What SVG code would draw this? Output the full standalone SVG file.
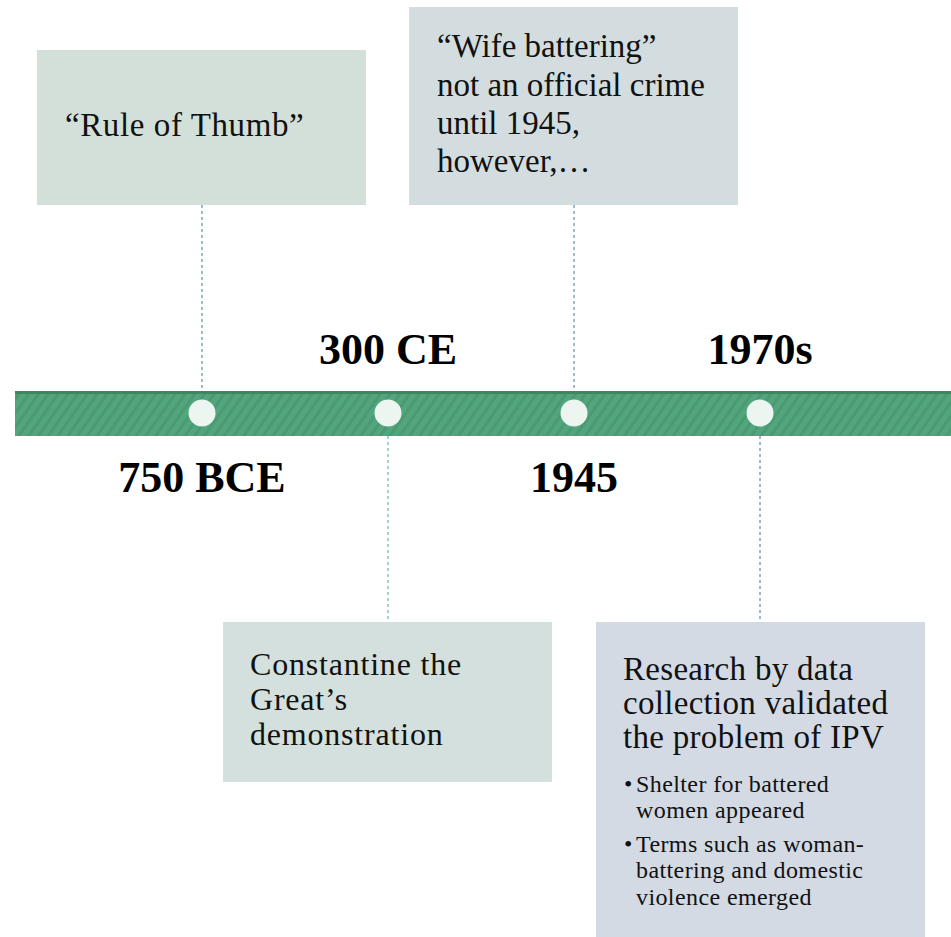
<svg xmlns="http://www.w3.org/2000/svg" width="951" height="937" viewBox="0 0 951 937">
<style>
.box{stroke:none}
.t{fill:#111}
.yr{font-weight:bold;font-size:44px;fill:#000;text-anchor:middle}
.dash{stroke-width:1;stroke-dasharray:3,3;fill:none}
.dot{fill:#ecf5f0}
</style>
<defs>
<pattern id="hatch" width="8" height="8" patternUnits="userSpaceOnUse" patternTransform="rotate(35)">
<rect width="8" height="8" fill="#52a57d"/>
<rect width="3" height="8" fill="#4a9a73"/>
</pattern>
</defs>
<rect width="951" height="937" fill="#fff"/>
<g id="connectors">
<line class="dash" x1="202" y1="205" x2="202" y2="391" stroke="#2e8a7a"/>
<line class="dash" x1="574" y1="205" x2="574" y2="391" stroke="#3a7fa8"/>
<line class="dash" x1="388" y1="436" x2="388" y2="622" stroke="#4aa8a0"/>
<line class="dash" x1="760" y1="436" x2="760" y2="622" stroke="#3a6fb0"/>
</g>
<g id="timeline">
<rect x="15" y="391" width="936" height="45" fill="url(#hatch)"/>
<rect x="15" y="391" width="936" height="3" fill="#3d8660"/>
<circle class="dot" cx="202" cy="413" r="13.5"/>
<circle class="dot" cx="388" cy="413" r="13.5"/>
<circle class="dot" cx="574" cy="413" r="13.5"/>
<circle class="dot" cx="760" cy="413" r="13.5"/>
</g>
<g font-family="'Liberation Serif', 'Times New Roman', serif">
<g id="label-750">
<text class="yr" x="202" y="492">750 BCE</text>
</g>
<g id="label-300">
<text class="yr" x="388" y="364">300 CE</text>
</g>
<g id="label-1945">
<text class="yr" x="574" y="492">1945</text>
</g>
<g id="label-1970">
<text class="yr" x="760" y="364">1970s</text>
</g>
<g id="node-rule">
<rect class="box" x="37" y="50" width="329" height="155" fill="#d3e0d9"/>
<text class="t" x="65" y="136" font-size="33" letter-spacing="0.6">“Rule of Thumb”</text>
</g>
<g id="node-wife">
<rect class="box" x="409" y="7" width="329" height="198" fill="#d3dddf"/>
<g font-size="33">
<text class="t" x="437" y="57">“Wife battering”</text>
<text class="t" x="437" y="96">not an official crime</text>
<text class="t" x="437" y="134">until 1945,</text>
<text class="t" x="437" y="172">however,…</text>
</g>
</g>
<g id="node-constantine">
<rect class="box" x="223" y="622" width="329" height="160" fill="#d3e0dd"/>
<g font-size="32" letter-spacing="0.8">
<text class="t" x="250" y="675">Constantine the</text>
<text class="t" x="250" y="710">Great’s</text>
<text class="t" x="250" y="745">demonstration</text>
</g>
</g>
<g id="node-research">
<rect class="box" x="596" y="622" width="329" height="315" fill="#d3dae3"/>
<g font-size="33" letter-spacing="0.3">
<text class="t" x="623" y="680">Research by data</text>
<text class="t" x="623" y="714">collection validated</text>
<text class="t" x="623" y="748">the problem of IPV</text>
</g>
<g font-size="24" letter-spacing="0.4">
<text class="t" x="624" y="792">•</text>
<text class="t" x="636" y="792">Shelter for battered</text>
<text class="t" x="636" y="818">women appeared</text>
<text class="t" x="624" y="852">•</text>
<text class="t" x="636" y="852">Terms such as woman-</text>
<text class="t" x="636" y="878">battering and domestic</text>
<text class="t" x="636" y="905">violence emerged</text>
</g>
</g>
</g>
</svg>
